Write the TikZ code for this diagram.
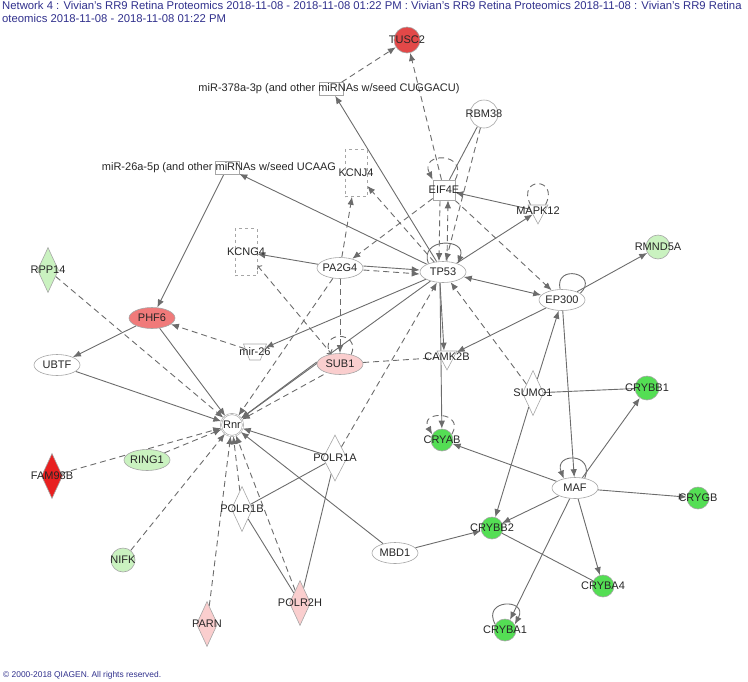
\documentclass[tikz,border=0pt]{standalone}
\usepackage{fontspec}
\setmainfont{Liberation Sans}
\usetikzlibrary{arrows.meta,shapes.geometric,backgrounds}
\definecolor{linkgray}{RGB}{108,108,108}
\definecolor{upred}{RGB}{226,72,72}
\definecolor{upsalmon}{RGB}{240,122,122}
\definecolor{upbright}{RGB}{232,32,32}
\definecolor{uppink}{RGB}{250,206,206}
\definecolor{downgreen}{RGB}{84,222,84}
\definecolor{downlight}{RGB}{202,242,192}
\definecolor{titleblue}{RGB}{48,48,140}
\newcommand{\mol}[4]{\node[#1,label={[lbl]center:#4}] (#2) at (#3) {};}
\tikzset{
  lbl/.style={font=\fontsize{11}{13}\selectfont, inner sep=0pt, text=black!85},
  shp/.style={draw=gray!70, line width=0.6pt, inner sep=0pt, fill=white},
  gcirc/.style={shp, circle, minimum size=24pt},
  gell/.style={shp, ellipse, minimum width=46pt, minimum height=21pt},
  gdia/.style={shp, diamond, minimum width=21pt, minimum height=45pt},
  gchan/.style={shp, rectangle, dashed, minimum width=22pt, minimum height=47pt},
  gkin/.style={shp, isosceles triangle, isosceles triangle stretches, shape border rotate=-90, minimum width=20pt, minimum height=19pt},
  gmir/.style={shp, rectangle, minimum width=24pt, minimum height=13pt},
  gtrap/.style={shp, trapezium, shape border rotate=180, trapezium stretches, inner sep=2pt, minimum width=23pt, minimum height=16pt},
  dir/.style={draw=linkgray, line width=0.9pt, -{Latex[length=8pt,width=6.5pt]}},
  ind/.style={dir, dash pattern=on 6pt off 4pt},
  dirline/.style={draw=linkgray, line width=0.9pt},
  indline/.style={dirline, dash pattern=on 6pt off 4pt},
  both/.style={dir, {Latex[length=8pt,width=6.5pt]}-{Latex[length=8pt,width=6.5pt]}}
}
\begin{document}
\begin{tikzpicture}[x=1pt,y=-1pt]
\useasboundingbox (0,0) rectangle (748,681);
\node[anchor=north west, inner sep=0pt, align=left, text=titleblue, font=\fontsize{11.3}{13}\selectfont] (title) at (2,1)
  {Network 4 : Vivian's RR9 Retina Proteomics 2018-11-08 - 2018-11-08 01:22 PM : Vivian's RR9 Retina Proteomics 2018-11-08 : Vivian's RR9 Retina\\oteomics 2018-11-08 - 2018-11-08 01:22 PM};
\node[anchor=west, inner sep=0pt, text=titleblue, font=\fontsize{8.4}{10}\selectfont] (copyright) at (3,675) {© 2000-2018 QIAGEN. All rights reserved.};

\mol{gcirc,fill=upred,minimum size=26pt}{TUSC2}{407,40}{TUSC2}
\node[gmir,label={[lbl,xshift=-2pt]center:miR-378a-3p (and other miRNAs w/seed CUGGACU)}] (miR378) at (331,89) {};
\mol{gcirc,minimum size=28pt}{RBM38}{484,114}{RBM38}
\node[gmir,label={[lbl,xshift=-8pt]center:miR-26a-5p (and other miRNAs w/seed UCAAG}] (miR26a) at (227,168) {};
\mol{gchan}{KCNJ4}{356,173}{KCNJ4}
\mol{shp,rectangle,minimum width=22pt,minimum height=20pt}{EIF4E}{444,190}{EIF4E}
\mol{gkin}{MAPK12}{538,211}{MAPK12}
\mol{gell}{TP53}{443,272}{TP53}
\mol{gell}{EP300}{562,300}{EP300}
\mol{gcirc,fill=downlight}{RMND5A}{658,247}{RMND5A}
\mol{gchan}{KCNG4}{246,252}{KCNG4}
\mol{gell}{PA2G4}{340,268}{PA2G4}
\mol{gdia,fill=downlight}{RPP14}{48,270}{RPP14}
\mol{gell,fill=upsalmon}{PHF6}{152,318}{PHF6}
\mol{gtrap}{mir26}{255,352}{mir-26}
\mol{gell,fill=uppink}{SUB1}{340,364}{SUB1}
\mol{gkin}{CAMK2B}{447,357}{CAMK2B}
\mol{gell}{UBTF}{57,365}{UBTF}
\mol{gdia}{SUMO1}{533,393}{SUMO1}
\mol{gcirc,fill=downgreen}{CRYBB1}{647,388}{CRYBB1}
\mol{gcirc,double,minimum size=22pt}{Rnr}{232,425}{Rnr}
\mol{gcirc,fill=downgreen,minimum size=22pt}{CRYAB}{442,440}{CRYAB}
\mol{gdia,minimum width=24pt,minimum height=46pt}{POLR1A}{335,458}{POLR1A}
\mol{gell,fill=downlight}{RING1}{147,460}{RING1}
\mol{gdia,fill=upbright}{FAM98B}{52,476}{FAM98B}
\mol{gell}{MAF}{575,488}{MAF}
\mol{gcirc,fill=downgreen,minimum size=22pt}{CRYGB}{698,498}{CRYGB}
\mol{gdia}{POLR1B}{242,509}{POLR1B}
\mol{gcirc,fill=downgreen,minimum size=22pt}{CRYBB2}{492,528}{CRYBB2}
\mol{gell}{MBD1}{395,553}{MBD1}
\mol{gcirc,fill=downlight}{NIFK}{123,560}{NIFK}
\mol{gcirc,fill=downgreen,minimum size=22pt}{CRYBA4}{603,586}{CRYBA4}
\mol{gdia,fill=uppink}{POLR2H}{300,603}{POLR2H}
\mol{gdia,fill=uppink}{PARN}{207,624}{PARN}
\mol{gcirc,fill=downgreen,minimum size=22pt}{CRYBA1}{505,630}{CRYBA1}

\begin{scope}[on background layer]
\draw[ind] (miR378) -- (TUSC2);
\draw[ind] (EIF4E) -- (TUSC2);
\draw[dir] (TP53) -- (miR378);
\draw[dir] (TP53) -- (miR26a);
\draw[dir] (miR26a) -- (PHF6);
\draw[dirline] (RBM38) -- (EIF4E);
\draw[ind] (RBM38) -- (TP53);
\draw[ind] ([xshift=-4pt]EIF4E.south) -- ([xshift=-4pt]TP53.north);
\draw[ind] ([xshift=4pt]TP53.north) -- ([xshift=4pt]EIF4E.south);
\draw[dir] (MAPK12) -- (EIF4E);
\draw[dir] (TP53) -- (MAPK12);
\draw[ind] (EIF4E) -- (EP300);
\draw[ind] (EIF4E) -- (PA2G4);
\draw[ind] (PA2G4) -- (KCNJ4);
\draw[ind] (TP53) -- (KCNJ4);
\draw[dir] (PA2G4) -- (KCNG4);
\draw[dir] ([yshift=2pt]PA2G4.east) -- ([yshift=2pt]TP53.west);
\draw[ind] ([yshift=-2pt]PA2G4.east) -- ([yshift=-2pt]TP53.west);
\draw[ind,<->] (KCNG4) -- (SUB1);
\draw[ind] (PA2G4) -- (SUB1);
\draw[ind] (PA2G4) -- (Rnr);
\draw[dir] (TP53) -- (mir26);
\draw[ind] (mir26) -- (PHF6);
\draw[dir] (PHF6) -- (UBTF);
\draw[dir] (PHF6) -- (Rnr);
\draw[dir] (UBTF) -- (Rnr);
\draw[ind] (RPP14) -- (Rnr);
\draw[dir] ([yshift=2pt]SUB1.west) -- (Rnr);
\draw[ind] ([yshift=-3pt]SUB1.south west) -- (Rnr);
\draw[dir] (TP53) -- (Rnr);
\draw[ind] (POLR1A) -- (TP53);
\draw[ind] (SUMO1) -- (TP53);
\draw[ind] (FAM98B) -- (Rnr);
\draw[ind] (RING1) -- (Rnr);
\draw[ind] (NIFK) -- (Rnr);
\draw[ind] (PARN) -- (Rnr);
\draw[ind] (POLR1B) -- (Rnr);
\draw[ind] (POLR2H) -- (Rnr);
\draw[dir] (POLR1A) -- (Rnr);
\draw[dirline] (POLR1B) -- (POLR1A);
\draw[dirline] (POLR2H) -- (POLR1A);
\draw[dirline] (POLR1B) -- (POLR2H);
\draw[dir] (MBD1) -- (Rnr);
\draw[dir] (MBD1) -- (CRYBB2);
\draw[indline] (SUB1) -- (CAMK2B);
\draw[dir] ([xshift=-3pt]TP53.south) -- ([xshift=-3pt]CAMK2B.north);
\draw[dir] ([xshift=-3pt]TP53.south) -- (CRYAB);
\draw[dir] (EP300) -- (CAMK2B);
\draw[both] (TP53) -- (EP300);
\draw[dir] (EP300) -- (RMND5A);
\draw[dir] (EP300) -- (MAF);
\draw[dir] (SUMO1) -- (EP300);
\draw[dirline] (SUMO1) -- (CRYBB1);
\draw[dir] (MAF) -- (CRYBB1);
\draw[dir] (SUMO1) -- (CRYBB2);
\draw[dir] (MAF) -- (CRYAB);
\draw[dir] (MAF) -- (CRYGB);
\draw[dir] (MAF) -- (CRYBB2);
\draw[dir] (MAF) -- (CRYBA4);
\draw[dir] (MAF) -- (CRYBA1);
\draw[dirline] (CRYBB2) -- (CRYBA4);
\draw[dir] (TP53.150) .. controls +(-10,-26) and +(10,-26) .. (TP53.30);
\draw[dirline] (EP300.100) .. controls +(-6,-26) and +(20,-20) .. (EP300.20);
\draw[dir] (MAF.45) .. controls +(10,-26) and +(-10,-26) .. (MAF.140);
\draw[dir] (CRYBA1.150) .. controls +(-14,-26) and +(14,-26) .. (CRYBA1.30);
\draw[ind] (EIF4E.north east) .. controls +(14,-28) and +(-14,-28) .. (EIF4E.north west);
\draw[indline] (MAPK12.40) .. controls +(14,-28) and +(-14,-28) .. (MAPK12.140);
\draw[indline] (SUB1.40) .. controls +(10,-24) and +(-12,-24) .. (SUB1.135);
\draw[ind] (CRYAB.30) .. controls +(14,-24) and +(-14,-24) .. (CRYAB.150);
\end{scope}
\end{tikzpicture}
\end{document}
